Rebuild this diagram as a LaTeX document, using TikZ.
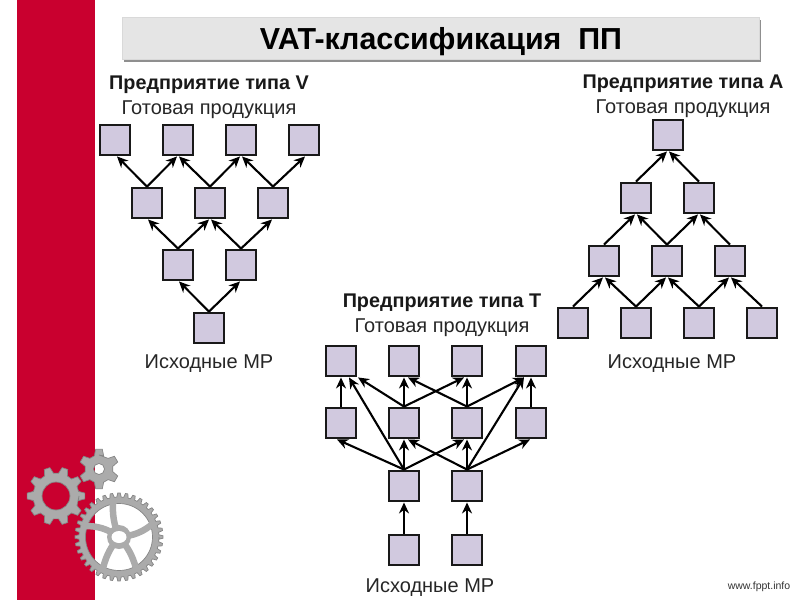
\documentclass[tikz,border=0pt]{standalone}
\usepackage{fontspec}
\setmainfont{Liberation Sans}
\usetikzlibrary{positioning,arrows.meta,shadows}
\definecolor{vat-red}{HTML}{C9002F}
\definecolor{vat-box}{HTML}{D1C9DF}
\definecolor{vat-bar}{HTML}{E5E5E5}
\definecolor{vat-gear}{HTML}{ABABAB}
\definecolor{vat-geard}{HTML}{858585}
\tikzstyle{vatboxstyle}=[shape=rectangle,fill=vat-box,draw=black!90,line width=2.4pt,minimum size=30.5pt,inner sep=0pt]
\tikzstyle{vatarrowstyle}=[draw=black,line width=2.1pt,-{Stealth[length=11pt,width=10pt]}]
\tikzstyle{vatheadstyle}=[font=\bfseries\fontsize{19.8}{22}\selectfont,text=black!90,inner sep=0pt]
\tikzstyle{vatlabelstyle}=[font=\fontsize{20}{23}\selectfont,text=black!85,inner sep=0pt]
\tikzstyle{vatgearstyle}=[fill=vat-gear,draw=vat-geard,line width=0.7pt,even odd rule]
\tikzstyle{vatspokestyle}=[draw=vat-gear,line width=6.5pt]
\newcommand{\vatbox}[3]{ \draw (#2,#3) node [style=vatboxstyle] (#1) {}; }
\newcommand{\vatarrow}[3]{ \draw [style=vatarrowstyle] (#1.north) -- ([xshift=#3pt]#2.south); }
\newcommand{\vathead}[4]{ \draw (#2,#3) node [style=vatheadstyle] (#1) {#4}; }
\newcommand{\vatlabel}[4]{ \draw (#2,#3) node [style=vatlabelstyle] (#1) {#4}; }
\newcommand{\vatgear}[7]{ \begin{scope}[shift={(#1,#2)},rotate=#7] \pgfmathsetmacro{\vatpitch}{360/#3} \draw [style=vatgearstyle] (0:#5) \foreach \i [evaluate=\i as \a using \i*\vatpitch] in {1,...,#3} { -- (\a-0.32*\vatpitch:#5) -- (\a-0.16*\vatpitch:#4) -- (\a+0.16*\vatpitch:#4) -- (\a+0.32*\vatpitch:#5) } -- cycle (0,0) circle (#6) ; \end{scope} }
\begin{document}
\begin{tikzpicture}[x=1pt,y=-1pt]
\useasboundingbox (0,0) rectangle (800,600); %
\fill [white] (0,0) rectangle (800,600); %
\fill [vat-red] (17,0) rectangle (95,600); %
% title
\node [fill=vat-bar,draw=black!15,line width=0.6pt,minimum width=637pt,minimum height=42pt,inner sep=0pt,text height=21.5pt,text depth=0pt,drop shadow={shadow xshift=1.5pt,shadow yshift=-2pt,fill=black!55,opacity=0.8},font=\bfseries\fontsize{30.4}{33}\selectfont] (vattitle) at (441,38.5) {VAT-классификация\ \ ПП}; %
% V
\vathead{vhead}{209}{85}{Предприятие типа V} %
\vatlabel{vtop}{209}{110}{Готовая продукция} %
\vatlabel{vbot}{209}{364}{Исходные МР} %
\vatbox{va}{115}{140} %
\vatbox{vb}{178}{140} %
\vatbox{vc}{241}{140} %
\vatbox{vd}{304}{140} %
\vatbox{ve}{147}{203} %
\vatbox{vf}{210}{203} %
\vatbox{vg}{273}{203} %
\vatbox{vh}{178}{265} %
\vatbox{vi}{241}{265} %
\vatbox{vj}{209}{328} %
\vatarrow{ve}{va}{2} %
\vatarrow{ve}{vb}{-1} %
\vatarrow{vf}{vb}{1} %
\vatarrow{vf}{vc}{-1} %
\vatarrow{vg}{vc}{1} %
\vatarrow{vg}{vd}{1} %
\vatarrow{vh}{ve}{1} %
\vatarrow{vh}{vf}{-1} %
\vatarrow{vi}{vf}{1} %
\vatarrow{vi}{vg}{-1} %
\vatarrow{vj}{vh}{1} %
\vatarrow{vj}{vi}{-1} %
% A
\vathead{ahead}{683}{84}{Предприятие типа А} %
\vatlabel{atop}{683}{109}{Готовая продукция} %
\vatlabel{abot}{672}{364}{Исходные МР} %
\vatbox{aa}{668}{135} %
\vatbox{ab}{636}{198} %
\vatbox{ac}{699}{198} %
\vatbox{ad}{604}{261} %
\vatbox{ae}{667}{261} %
\vatbox{af}{730}{261} %
\vatbox{ag}{573}{323} %
\vatbox{ah}{636}{323} %
\vatbox{ai}{699}{323} %
\vatbox{aj}{762}{323} %
\vatarrow{ab}{aa}{-1} %
\vatarrow{ac}{aa}{1} %
\vatarrow{ad}{ab}{-1} %
\vatarrow{ae}{ab}{1} %
\vatarrow{ae}{ac}{-1} %
\vatarrow{af}{ac}{1} %
\vatarrow{ag}{ad}{-1} %
\vatarrow{ah}{ad}{1} %
\vatarrow{ah}{ae}{-1} %
\vatarrow{ai}{ae}{1} %
\vatarrow{ai}{af}{-1} %
\vatarrow{aj}{af}{1} %
% T
\vathead{thead}{442}{303}{Предприятие типа Т} %
\vatlabel{ttop}{442}{328}{Готовая продукция} %
\vatlabel{tbot}{430}{588}{Исходные МР} %
\vatbox{ta}{341}{361} %
\vatbox{tb}{404}{361} %
\vatbox{tc}{467}{361} %
\vatbox{td}{531}{361} %
\vatbox{te}{341}{423} %
\vatbox{tf}{404}{423} %
\vatbox{tg}{467}{423} %
\vatbox{th}{531}{423} %
\vatbox{ti}{404}{486} %
\vatbox{tj}{467}{486} %
\vatbox{tk}{404}{550} %
\vatbox{tl}{467}{550} %
\vatarrow{te}{ta}{0} %
\vatarrow{ti}{ta}{8} %
\vatarrow{tf}{ta}{17} %
\vatarrow{tf}{tb}{0} %
\vatarrow{tg}{tb}{4} %
\vatarrow{tf}{tc}{-3} %
\vatarrow{tg}{tc}{0} %
\vatarrow{tg}{td}{-7} %
\vatarrow{tj}{td}{-7} %
\vatarrow{th}{td}{0} %
\vatarrow{ti}{te}{-4} %
\vatarrow{ti}{tf}{0} %
\vatarrow{tj}{tf}{4} %
\vatarrow{ti}{tg}{-3} %
\vatarrow{tj}{tg}{0} %
\vatarrow{tj}{th}{-1} %
\vatarrow{tk}{ti}{0} %
\vatarrow{tl}{tj}{0} %
% gears
\vatgear{56}{496}{10}{29}{23}{14}{0} %
\vatgear{99}{469}{6}{20}{14}{5.5}{90} %
\vatgear{119}{537}{36}{44}{40}{33.5}{0} %
\begin{scope}[shift={(119,537)}]
\draw [style=vatspokestyle] (0,0) to[bend left=12] (-6,-36); %
\draw [style=vatspokestyle] (0,0) to[bend right=18] (36,-15); %
\draw [style=vatspokestyle] (0,0) to[bend left=12] (17,31); %
\draw [style=vatspokestyle] (0,0) to[bend right=12] (-16,31); %
\draw [style=vatspokestyle] (0,0) to[bend right=18] (-36,-11); %
\fill [vat-gear] (0,0) circle (12); %
\fill [white] (0,0) ellipse (7.5 and 6); %
\end{scope}
\node [font=\fontsize{10.5}{12}\selectfont,text=black!80,inner sep=0pt] (vaturl) at (759,587) {www.fppt.info}; %
\end{tikzpicture}
\end{document}
